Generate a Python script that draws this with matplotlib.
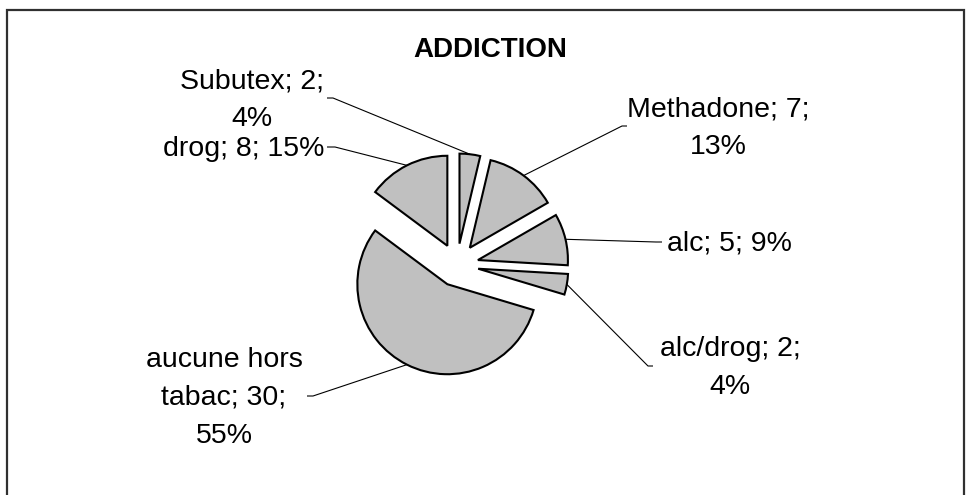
import math
import textwrap
import matplotlib
matplotlib.use("Agg")
import matplotlib.pyplot as plt
from matplotlib.patches import Rectangle

# data
categories = ["Subutex", "Methadone", "alc", "alc/drog", "aucune hors tabac", "drog"]
counts = [2, 7, 5, 2, 30, 8]
percents = [4, 13, 9, 4, 55, 15]

W, H = 971, 495


def py(y):
    """pixel row (from top) -> data y"""
    return H - y


# label layout: text x, text y, ha, wrap width, knee x, tick end x (pixels)
layout = [
    (252, 100, "center", 12, 333, 327),
    (718, 128, "center", 14, 622, 627),
    (667, 244, "left", 40, 656, 662),
    (730, 368, "center", 12, 648, 653),
    (224, 398, "center", 11, 313, 307),
    (324, 149, "right", 40, 335, 327),
]

plt.rcParams["font.family"] = ["Liberation Sans", "DejaVu Sans"]

fig = plt.figure(figsize=(W / 100, H / 100), dpi=100)
ax = fig.add_axes([0, 0, 1, 1])

radius = 90
offset = 21.5
wedges, _ = ax.pie(counts, center=(457, py(265)), radius=radius,
                   explode=[offset] * len(counts), startangle=90,
                   counterclock=False,
                   colors=["#c0c0c0"] * len(counts),
                   wedgeprops=dict(edgecolor="black", linewidth=1.5))

ax.set_xlim(0, W)
ax.set_ylim(0, H)
ax.set_aspect("equal")
ax.axis("off")

for w, name, n, p, (tx, ty, ha, wrap, kx, ex) in zip(
        wedges, categories, counts, percents, layout):
    mid = math.radians((w.theta1 + w.theta2) / 2)
    cx, cy = w.center
    ax_, ay_ = cx + w.r * math.cos(mid), cy + w.r * math.sin(mid)
    ky = py(ty - 2)
    ax.plot([ax_, kx, ex], [ay_, ky, ky], color="black", lw=0.8,
            solid_capstyle="butt")
    label = textwrap.fill(f"{name}; {n}; {p}%", width=wrap)
    ax.text(tx, py(ty), label, ha=ha, va="center", multialignment="center",
            fontsize=20.5, color="black", linespacing=1.6)

ax.text(490, py(50), "ADDICTION", ha="center", va="center",
        fontsize=20, fontweight="bold")

# chart area border
ax.add_patch(Rectangle((7, py(500)), 957, 490, fill=False,
                       edgecolor="#303030", linewidth=1.6, clip_on=False))

fig.savefig("out.png", dpi=100)
